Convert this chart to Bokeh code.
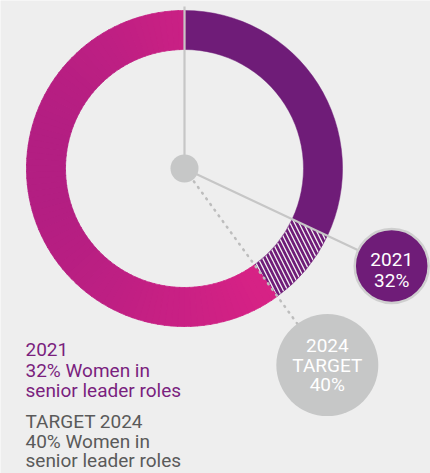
import math
from bokeh.plotting import figure
from bokeh.models import Range1d
from bokeh.core.properties import value
from bokeh.embed import file_html
from bokeh.resources import INLINE

# ---- data ----
years = ["2021", "2024"]
women_pct = [32, 40]          # 2021 actual, 2024 target
bubble_labels = [["2021", "32%"], ["2024", "TARGET", "40%"]]
caption_2021 = ["2021", "32% Women in", "senior leader roles"]
caption_2024 = ["TARGET 2024", "40% Women in", "senior leader roles"]

W, H = 430, 473
BG = "#EEEEEE"
PURPLE = "#6F1C78"
GREY_LINE = "#C6C6C6"
GREY_BUBBLE = "#C6C7C7"
MAG_LEFT = (0xB0, 0x1E, 0x82)
MAG_RIGHT = (0xDE, 0x23, 0x86)
FONT = value("Roboto")

CX, CY = 184, H - 168
R_OUT, R_IN = 158, 119

def ang(pct):
    # bokeh angle (ccw from +x) for a clockwise share starting at 12 o'clock
    return math.radians(90 - 3.6 * pct)

p = figure(width=W, height=H, x_range=Range1d(0, W), y_range=Range1d(0, H),
           min_border=0, toolbar_location=None, output_backend="svg",
           background_fill_color=BG, border_fill_color=BG)
p.axis.visible = False
p.grid.visible = False
p.outline_line_color = None

a_now, a_tgt = ang(women_pct[0]), ang(women_pct[1])

# purple share 0..32%
p.annular_wedge(x=CX, y=CY, inner_radius=R_IN, outer_radius=R_OUT,
                start_angle=math.radians(90), end_angle=a_now, direction="clock",
                fill_color=PURPLE, line_color=PURPLE, line_width=0.5)
# hatched gap 32..40%
p.annular_wedge(x=CX, y=CY, inner_radius=R_IN, outer_radius=R_OUT,
                start_angle=a_now, end_angle=a_tgt, direction="clock",
                fill_color=PURPLE, line_color=PURPLE, line_width=0.5,
                hatch_pattern="\\", hatch_color="#F2F2F2", hatch_scale=9, hatch_weight=1.3)
# remaining share 40..100% with horizontal gradient
N = 90
span = (a_tgt - math.radians(-270))
st, en, cols = [], [], []
for i in range(N):
    s = a_tgt - span * i / N
    e = a_tgt - span * (i + 1) / N
    m = (s + e) / 2
    xm = CX + (R_IN + R_OUT) / 2 * math.cos(m)
    t = min(max((xm - 27) / (300 - 27), 0), 1)
    c = tuple(int(MAG_LEFT[k] + (MAG_RIGHT[k] - MAG_LEFT[k]) * t) for k in range(3))
    st.append(s); en.append(e - 0.004)
    cols.append("#%02x%02x%02x" % c)
p.annular_wedge(x=CX, y=CY, inner_radius=R_IN, outer_radius=R_OUT,
                start_angle=st, end_angle=en, direction="clock",
                fill_color=cols, line_color=cols, line_width=0.8)

# pointer lines
p.segment(x0=CX, y0=CY, x1=CX, y1=H - 6, line_color=GREY_LINE, line_width=2.2)
D_NOW, RB_NOW = 229, 37
D_TGT, RB_TGT = 243, 51
p.segment(x0=CX, y0=CY, x1=CX + (D_NOW - RB_NOW) * math.cos(a_now),
          y1=CY + (D_NOW - RB_NOW) * math.sin(a_now), line_color=GREY_LINE, line_width=2.2)
p.segment(x0=CX + 16 * math.cos(a_tgt), y0=CY + 16 * math.sin(a_tgt),
          x1=CX + (D_TGT - RB_TGT) * math.cos(a_tgt),
          y1=CY + (D_TGT - RB_TGT) * math.sin(a_tgt),
          line_color="#BDBDBD", line_width=2.5, line_dash="1 6", line_cap="round")

# hub
p.circle(x=CX, y=CY, radius=14, fill_color="#C6C7C7", line_color=None)

# bubbles
bx_now = CX + D_NOW * math.cos(a_now); by_now = CY + D_NOW * math.sin(a_now)
bx_tgt = CX + D_TGT * math.cos(a_tgt); by_tgt = CY + D_TGT * math.sin(a_tgt)
p.circle(x=bx_now, y=by_now, radius=RB_NOW, fill_color=PURPLE,
         line_color="#CFCFCF", line_width=2.5)
p.circle(x=bx_tgt, y=by_tgt, radius=RB_TGT, fill_color=GREY_BUBBLE, line_color=None)

lab = bubble_labels[0]
p.text(x=[bx_now] * len(lab), y=[by_now + 6.5 - 21 * i for i in range(len(lab))], text=lab,
       text_align="center", text_baseline="middle", text_color="white",
       text_font=FONT, text_font_size="19px")
lab = bubble_labels[1]
p.text(x=[bx_tgt] * len(lab), y=[by_tgt + 19.5 - 19.5 * i for i in range(len(lab))], text=lab,
       text_align="center", text_baseline="middle", text_color="white",
       text_font=FONT, text_font_size="19px")

# captions
p.text(x=[25] * 3, y=[H - 349, H - 369.5, H - 390], text=caption_2021,
       text_align="left", text_baseline="alphabetic", text_color="#7A1F7E",
       text_font=FONT, text_font_size="19px")
p.text(x=[25] * 3, y=[H - 421, H - 440.5, H - 460], text=caption_2024,
       text_align="left", text_baseline="alphabetic", text_color="#5A5A5A",
       text_font=FONT, text_font_size="19px")

open("out.html", "w").write(file_html(p, INLINE))
